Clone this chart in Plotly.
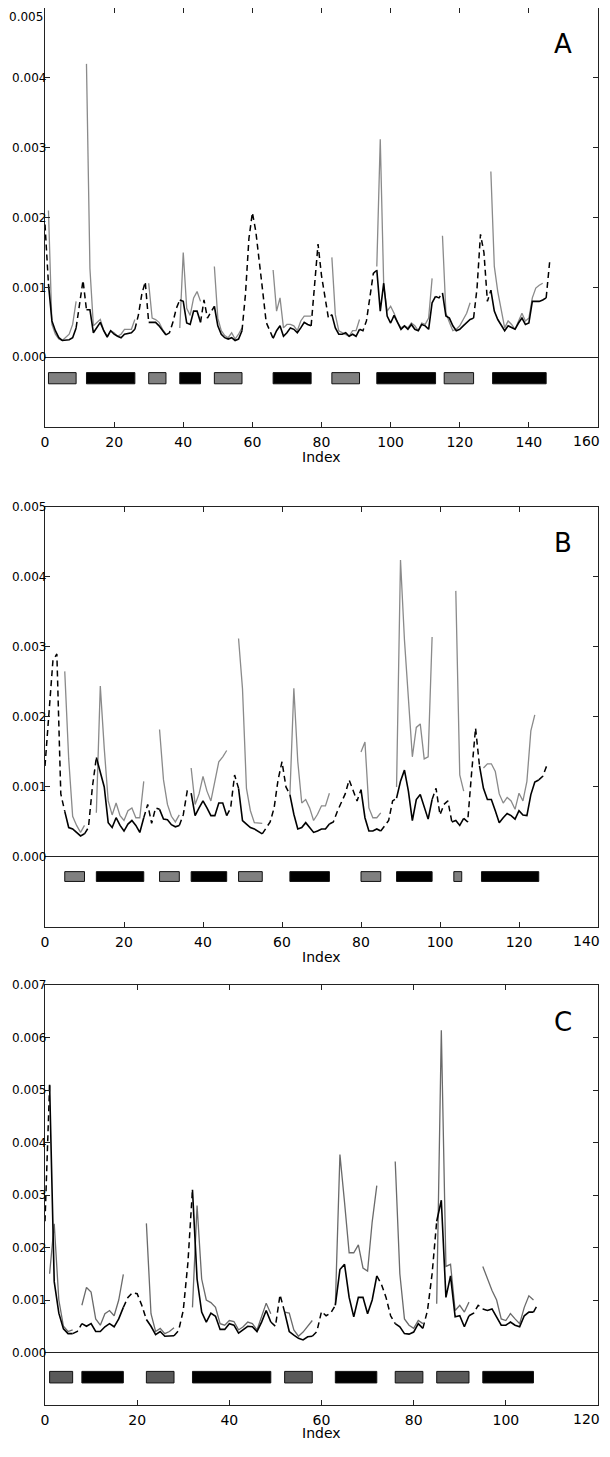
import plotly.graph_objects as go
from plotly.subplots import make_subplots

N = None

# ---------------- Panel A ----------------
a_black = [
    0.0019, 0.00105, 0.00052, 0.00038, 0.00028, 0.00024, 0.00024, 0.00025, 0.00028, 0.00042,
    0.0008, 0.0011, 0.00068, 0.00068, 0.00035, 0.00042, 0.0005, 0.00038, 0.00029, 0.00038,
    0.00033, 0.0003, 0.00028, 0.00033, 0.00034, 0.00035, 0.0004, 0.0006, 0.0009, 0.00108,
    0.0005, 0.0005, 0.0005, 0.00045, 0.00038, 0.00032, 0.00035, 0.0005, 0.0007, 0.00082,
    0.0008, 0.00049, 0.00047, 0.00066, 0.00066, 0.0005, 0.00082, 0.00056, 0.00065, 0.00073,
    0.00045, 0.00033, 0.00028, 0.00026, 0.00028, 0.00024, 0.00026, 0.00038, 0.0009, 0.0017,
    0.00207, 0.0018, 0.0014, 0.00094, 0.0005, 0.00038, 0.00027, 0.00038, 0.00045, 0.0003,
    0.00035, 0.00042, 0.0004, 0.00035, 0.00042, 0.0005, 0.00047, 0.00045, 0.0011, 0.00162,
    0.00117, 0.00085, 0.00056, 0.00061, 0.00042, 0.00033, 0.00033, 0.00035, 0.0003, 0.00033,
    0.0003, 0.0004, 0.00038, 0.00052, 0.00085, 0.0012, 0.00125, 0.00066, 0.00106, 0.00059,
    0.00049, 0.0006, 0.0005, 0.0004, 0.00045, 0.0004, 0.00047, 0.0004, 0.00038, 0.00047,
    0.00045, 0.0004, 0.00078, 0.00087, 0.00085, 0.00092, 0.00059, 0.00056, 0.00045, 0.00038,
    0.0004, 0.00045, 0.00049, 0.00054, 0.00056, 0.00099, 0.00176, 0.0015, 0.0008, 0.00096,
    0.00066, 0.00054, 0.00045, 0.00038, 0.00045, 0.00042, 0.0004, 0.00049, 0.00056, 0.00047,
    0.00049, 0.0008, 0.0008, 0.0008, 0.00082, 0.00085, 0.00136,
]
a_gray = [
    N, 0.0021, 0.00047, 0.00033, 0.00026, 0.00024, 0.00028, 0.00033, 0.00047, 0.0008,
    N, N, 0.0042, 0.00127, 0.00045, 0.0005, 0.00054, 0.00038, 0.0003, 0.00038,
    0.00035, 0.0003, 0.00033, 0.0004, 0.0004, 0.0004, 0.00054, N, N, N,
    0.00106, 0.00056, 0.00054, 0.0005, 0.0004, 0.00033, N, N, N, 0.00042,
    0.0015, 0.0007, 0.0006, 0.00085, 0.00094, 0.0008, N, N, N, 0.0013,
    0.00056, 0.00038, 0.00031, 0.00028, 0.00035, 0.00026, 0.00033, 0.00042, N, N,
    N, N, N, N, N, N, 0.00125, 0.00066, 0.00085, 0.00042,
    0.00047, 0.00047, 0.00045, 0.00038, 0.00052, 0.00059, 0.00059, 0.00059, N, N,
    N, N, N, 0.00143, 0.00061, 0.00038, 0.00035, 0.00033, 0.0003, 0.00038,
    0.00038, 0.00054, N, N, N, N, 0.0013, 0.00312, 0.00103, 0.00066,
    0.00073, 0.00063, 0.0005, 0.00042, 0.00045, 0.00042, 0.00049, 0.00045, 0.00038, 0.00049,
    0.00047, 0.00056, 0.00113, N, N, 0.00174, 0.00063, 0.0005, 0.00038, 0.0004,
    0.00045, 0.00054, 0.00063, 0.00078, N, N, N, N, N, 0.00266,
    0.0013, 0.00094, 0.0007, 0.00042, 0.00052, 0.00047, 0.0004, 0.00052, 0.00063, 0.00052,
    0.00056, 0.00085, 0.00099, 0.00103, 0.00106, N, N,
]
a_segments = [(1, 9, "g"), (12, 26, "k"), (30, 35, "g"), (39, 45, "k"), (49, 57, "g"),
              (66, 77, "k"), (83, 91, "g"), (96, 113, "k"), (115.5, 124, "g"), (129.5, 145, "k")]

# ---------------- Panel B ----------------
b_black = [
    0.0013, 0.002, 0.0028, 0.0029, 0.0009, 0.00065, 0.00042, 0.0004, 0.00035, 0.0003,
    0.00033, 0.00042, 0.001, 0.00142, 0.00122, 0.001, 0.00049, 0.00042, 0.00056, 0.00045,
    0.00037, 0.00047, 0.00052, 0.00045, 0.00035, 0.00056, 0.00075, 0.00048, 0.0007, 0.00068,
    0.00054, 0.00053, 0.00046, 0.00043, 0.00045, 0.0006, 0.00094, 0.00091, 0.00059, 0.0007,
    0.0008, 0.0007, 0.00059, 0.00059, 0.00077, 0.00077, 0.00059, 0.0007, 0.00117, 0.00098,
    0.00052, 0.00047, 0.00042, 0.0004, 0.00037, 0.00033, 0.00042, 0.0005, 0.0007, 0.0011,
    0.00136, 0.001, 0.00089, 0.00061, 0.0004, 0.00042, 0.00049, 0.00042, 0.00035, 0.00037,
    0.0004, 0.0004, 0.00047, 0.0005, 0.00065, 0.00078, 0.0009, 0.0011, 0.00094, 0.0008,
    0.00096, 0.00056, 0.00037, 0.00037, 0.0004, 0.00037, 0.00045, 0.00052, 0.0008, 0.00084,
    0.00108, 0.00124, 0.00094, 0.00052, 0.00082, 0.00089, 0.0007, 0.00054, 0.00082, 0.00098,
    0.0006, 0.00075, 0.0008, 0.0005, 0.00052, 0.00045, 0.00055, 0.0005, 0.0012, 0.00184,
    0.0013, 0.00098, 0.00082, 0.00082, 0.00066, 0.00049, 0.00056, 0.00062, 0.00059, 0.00054,
    0.00066, 0.0006, 0.00059, 0.00089, 0.00107, 0.0011, 0.00115, 0.0013,
]
b_gray = [
    N, N, N, N, N, 0.00265, 0.0014, 0.00058, 0.00045, 0.00035,
    0.00045, N, N, 0.00063, 0.00244, 0.00155, 0.0008, 0.0006, 0.00077, 0.00059,
    0.00052, 0.00066, 0.0007, 0.00056, 0.00056, 0.00108, N, N, N, 0.00182,
    0.0011, 0.00075, 0.00058, 0.0005, 0.0006, N, N, 0.00127, 0.00075, 0.0009,
    0.00115, 0.00094, 0.0008, 0.00108, 0.00136, 0.00143, 0.00152, N, N, 0.00312,
    0.0024, 0.00098, 0.00066, 0.00049, 0.00048, 0.00048, N, N, N, N,
    N, N, 0.00089, 0.00241, 0.00136, 0.00077, 0.00082, 0.0007, 0.00052, 0.00061,
    0.00073, 0.00073, 0.00091, N, N, N, N, N, N, N,
    0.0015, 0.00164, 0.0007, 0.00056, 0.00056, 0.00063, N, N, N, 0.001,
    0.00424, 0.0031, 0.0022, 0.00143, 0.00185, 0.0019, 0.0014, 0.00143, 0.00314, N,
    N, N, N, N, 0.0038, 0.00117, 0.00094, N, N, N,
    N, 0.00127, 0.00133, 0.00133, 0.00122, 0.0009, 0.00077, 0.00085, 0.0008, 0.00068,
    0.00091, 0.0008, 0.00108, 0.0018, 0.00203, N, N, N,
]
b_segments = [(5, 10, "g"), (13, 25, "k"), (29, 34, "g"), (37, 46, "k"), (49, 55, "g"),
              (62, 72, "k"), (80, 85, "g"), (89, 98, "k"), (103.5, 105.5, "g"), (110.5, 125, "k")]

# ---------------- Panel C ----------------
c_black = [
    0.0025, 0.0051, 0.00135, 0.00075, 0.00045, 0.00036, 0.00036, 0.0004, 0.00055, 0.0005,
    0.00055, 0.0004, 0.0004, 0.00049, 0.00055, 0.00049, 0.00064, 0.00086, 0.00105, 0.00114,
    0.00112, 0.0009, 0.00063, 0.0005, 0.00034, 0.0004, 0.00031, 0.00031, 0.00032, 0.00042,
    0.0008, 0.0017, 0.0031, 0.0014, 0.00077, 0.00058, 0.00075, 0.00069, 0.00044, 0.00044,
    0.00055, 0.00052, 0.00037, 0.00044, 0.0005, 0.00049, 0.0004, 0.00058, 0.0008, 0.00058,
    0.0005, 0.0011, 0.00077, 0.0004, 0.00033, 0.00027, 0.00024, 0.0003, 0.00031, 0.0004,
    0.00078, 0.0007, 0.00075, 0.0009, 0.00158, 0.00168, 0.00105, 0.00068, 0.00105, 0.00105,
    0.00074, 0.001, 0.00146, 0.0013, 0.00105, 0.0007, 0.00055, 0.00049, 0.00036, 0.00035,
    0.00039, 0.00055, 0.00046, 0.0008, 0.0015, 0.0025, 0.0029, 0.00105, 0.00146, 0.00068,
    0.0007, 0.00049, 0.0007, 0.00075, 0.0009, 0.00083, 0.0008, 0.00083, 0.00068, 0.00052,
    0.00052, 0.00058, 0.00052, 0.00049, 0.0007, 0.00077, 0.00077, 0.00093,
]
c_gray = [
    N, 0.0015, 0.00245, 0.001, 0.0005, 0.0004, 0.00043, N, 0.0009, 0.00124,
    0.00115, 0.00064, 0.00052, 0.00074, 0.0008, 0.0007, 0.001, 0.00149, N, N,
    N, N, 0.00246, 0.00074, 0.0004, 0.00046, 0.00036, 0.0004, 0.00047, N,
    N, N, 0.00086, 0.0028, 0.0014, 0.001, 0.00095, 0.00086, 0.00055, 0.00052,
    0.00061, 0.00059, 0.00043, 0.00049, 0.00058, 0.00055, 0.00043, 0.00068, 0.00094, 0.00074,
    N, N, 0.00077, 0.00075, 0.00043, 0.00031, 0.00039, 0.00049, 0.00061, N,
    N, N, N, 0.0009, 0.00377, 0.00286, 0.0019, 0.0019, 0.00205, 0.00161,
    0.00155, 0.00249, 0.00318, N, N, N, 0.00364, 0.0015, 0.00064, 0.00052,
    0.00046, 0.00061, 0.00055, N, N, 0.00093, 0.00614, 0.00164, 0.00168, 0.0008,
    0.0009, 0.00077, 0.00096, N, N, 0.00164, 0.00142, 0.00118, 0.001, 0.00064,
    0.00061, 0.00074, 0.00064, 0.00055, 0.00086, 0.00108, 0.001, N,
]
c_segments = [(1, 6, "g"), (8, 17, "k"), (22, 28, "g"), (32, 49, "k"), (52, 58, "g"),
              (63, 72, "k"), (76, 82, "g"), (85, 92, "g"), (95, 106, "k")]

assert len(a_black) == len(a_gray)
assert len(b_black) == len(b_gray)
assert len(c_black) == len(c_gray)

panels = [
    dict(label="A", black=a_black, gray=a_gray, segs=a_segments, xmax=160, ymax=0.005,
         bar=(-0.00038, -0.00022), line_gray="#8a8a8a", fill_gray="#808080",
         domain=(0.7000, 1.0), index_shift=-30, top_label_inside=True),
    dict(label="B", black=b_black, gray=b_gray, segs=b_segments, xmax=140, ymax=0.005,
         bar=(-0.00035, -0.00021), line_gray="#8a8a8a", fill_gray="#808080",
         domain=(0.3422, 0.6429), index_shift=-30, top_label_inside=False),
    dict(label="C", black=c_black, gray=c_gray, segs=c_segments, xmax=120, ymax=0.007,
         bar=(-0.00058, -0.00036), line_gray="#6a6a6a", fill_gray="#595959",
         domain=(0.0, 0.3006), index_shift=-28, top_label_inside=False),
]

fig = make_subplots(rows=3, cols=1)
axis_col = "#222222"
font_fam = "DejaVu Sans"
tick_font_y = dict(family=font_fam, size=12, color="black")
tick_font_x = dict(family=font_fam, size=14, color="black")

for r, p in enumerate(panels, start=1):
    xs = list(range(len(p["black"])))
    n = len(xs)
    inseg = [any(s - 0.5 <= i <= e + 0.5 for s, e, _ in p["segs"]) for i in xs]
    solid = [v if inseg[i] else None for i, v in enumerate(p["black"])]
    dashed = [v if (not inseg[i] or (i > 0 and not inseg[i - 1]) or (i < n - 1 and not inseg[i + 1])) else None
              for i, v in enumerate(p["black"])]

    fig.add_trace(go.Scatter(x=xs, y=p["gray"], mode="lines",
                             line=dict(color=p["line_gray"], width=1.3)), row=r, col=1)
    fig.add_trace(go.Scatter(x=xs, y=dashed, mode="lines",
                             line=dict(color="black", width=1.5, dash="6px,4px")), row=r, col=1)
    fig.add_trace(go.Scatter(x=xs, y=solid, mode="lines",
                             line=dict(color="black", width=1.6)), row=r, col=1)

    xr = "x" if r == 1 else f"x{r}"
    yr = "y" if r == 1 else f"y{r}"
    for s, e, kind in p["segs"]:
        fig.add_shape(type="rect", xref=xr, yref=yr, x0=s, x1=e, y0=p["bar"][0], y1=p["bar"][1],
                      fillcolor=p["fill_gray"] if kind == "g" else "black",
                      line=dict(color="#111111", width=1))

    ticks_y = [k / 1000 for k in range(0, int(round(p["ymax"] * 1000)) + 1)]
    text_y = [f"{t:.3f}" for t in ticks_y]
    if p["top_label_inside"]:
        # the top label would sit on the page edge: draw it just below instead
        fig.add_annotation(xref=f"{xr} domain", yref=f"{yr} domain", x=0, y=1, xshift=0,
                           text=text_y[-1], showarrow=False, xanchor="right", yanchor="top",
                           font=tick_font_y)
        text_y[-1] = ""
    fig.update_yaxes(row=r, col=1, domain=list(p["domain"]), range=[-0.001, p["ymax"]],
                     tickvals=ticks_y, ticktext=text_y,
                     ticks="inside", ticklen=5, tickcolor=axis_col, showline=True, mirror="ticks",
                     linecolor=axis_col, linewidth=1.3, showgrid=False,
                     zeroline=True, zerolinecolor=axis_col, zerolinewidth=1.3,
                     ticklabelstandoff=-5, ticklabeloverflow="allow",
                     tickfont=tick_font_y, automargin=False)

    ticks_x = list(range(0, p["xmax"] + 1, 20))
    text_x = [str(t) for t in ticks_x]
    # last label would run past the right page edge: right-align it instead
    fig.add_annotation(xref=f"{xr} domain", yref=f"{yr} domain", x=1, y=0, xshift=4, yshift=-14,
                       text=text_x[-1], showarrow=False, xanchor="right", yanchor="middle",
                       font=tick_font_x)
    text_x[-1] = ""
    fig.update_xaxes(row=r, col=1, range=[0, p["xmax"]], tickvals=ticks_x, ticktext=text_x,
                     ticks="inside", ticklen=5, tickcolor=axis_col, showline=True, mirror="ticks",
                     linecolor=axis_col, linewidth=1.3, showgrid=False, zeroline=False,
                     ticklabelstandoff=2, ticklabeloverflow="allow",
                     tickfont=tick_font_x, automargin=False)
    fig.add_annotation(xref=f"{xr} domain", yref=f"{yr} domain", x=0.937, y=0.913,
                       text=p["label"], showarrow=False, xanchor="center", yanchor="middle",
                       font=dict(family=font_fam, size=26, color="black"))
    fig.add_annotation(xref=f"{xr} domain", yref=f"{yr} domain", x=0.5, y=0, yshift=p["index_shift"],
                       text="Index", showarrow=False, xanchor="center", yanchor="middle",
                       font=dict(family=font_fam, size=14, color="black"))

# the page body adds an 8px margin round the figure, so keep it inside the window
fig.update_layout(width=602, height=1433, showlegend=False,
                  margin=dict(l=37, r=12, t=0, b=36),
                  plot_bgcolor="white", paper_bgcolor="white",
                  font=dict(family=font_fam))

fig.write_html("out.html")
